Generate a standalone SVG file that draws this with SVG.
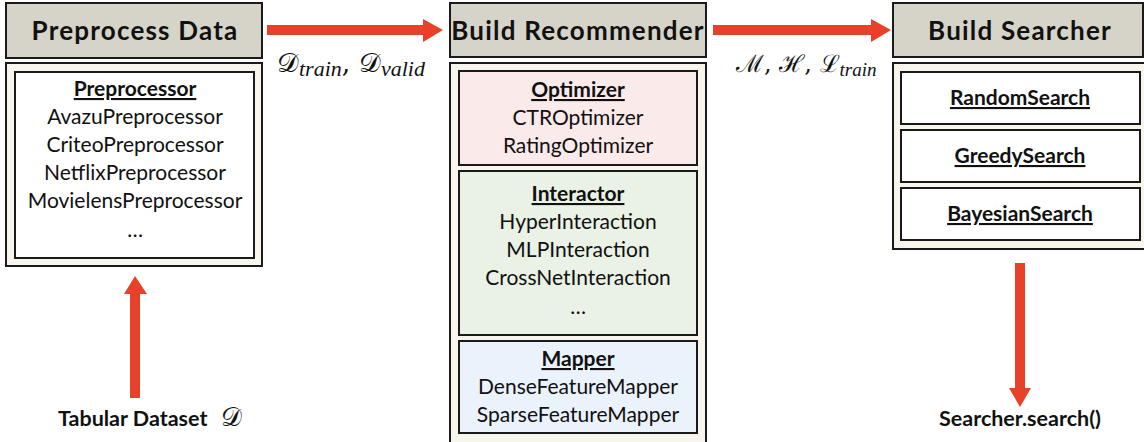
<svg xmlns="http://www.w3.org/2000/svg" width="1144" height="442" viewBox="0 0 1144 442">
  <defs>
    <style>
      .hdr { fill: #d6d4c8; stroke: #1a1a1a; stroke-width: 2; }
      .panel { fill: #f8f6ec; stroke: #1a1a1a; stroke-width: 2; }
      .box { fill: #ffffff; stroke: #1a1a1a; stroke-width: 2; }
      .opt { fill: #fbeaea; stroke: #1a1a1a; stroke-width: 2; }
      .int { fill: #e9f2e5; stroke: #1a1a1a; stroke-width: 2; }
      .map { fill: #eaf2fc; stroke: #1a1a1a; stroke-width: 2; }
      .title { font-family: Lato, "Noto Sans", sans-serif; font-weight: bold; font-size: 26px; letter-spacing: 1.2px; fill: #111; text-anchor: middle; }
      .sub { font-family: Lato, "Noto Sans", sans-serif; font-weight: bold; font-size: 21px; fill: #111; text-anchor: middle; text-decoration: underline; }
      .item { font-family: Lato, "Noto Sans", sans-serif; font-size: 21px; fill: #111; text-anchor: middle; }
      .io { font-family: Lato, "Noto Sans", sans-serif; font-weight: bold; font-size: 21.5px; fill: #111; }
      .math { font-family: "DejaVu Serif", "Liberation Serif", serif; font-size: 26px; fill: #111; }
      .subs { font-family: "Liberation Serif", serif; font-style: italic; font-size: 20px; }
      .arrow { fill: #e8412a; }
    </style>
  </defs>

  <!-- Preprocess Data stage -->
  <g id="preprocess">
    <rect class="hdr" x="6" y="3" width="256" height="55"/>
    <text class="title" x="135" y="40">Preprocess Data</text>
    <rect class="panel" x="6" y="63" width="256" height="203"/>
    <rect class="box" x="15" y="72" width="239" height="186"/>
    <text class="sub" x="135" y="96">Preprocessor</text>
    <text class="item" x="135" y="124">AvazuPreprocessor</text>
    <text class="item" x="135" y="152">CriteoPreprocessor</text>
    <text class="item" x="135" y="180">NetflixPreprocessor</text>
    <text class="item" x="135" y="208">MovielensPreprocessor</text>
    <text class="item" x="135" y="237">…</text>
  </g>

  <!-- Build Recommender stage -->
  <g id="recommender">
    <rect class="hdr" x="450" y="3" width="256" height="54"/>
    <text class="title" x="578" y="40">Build Recommender</text>
    <rect class="panel" x="450" y="63" width="256" height="385"/>
    <g id="optimizer">
      <rect class="opt" x="459" y="71" width="238" height="94"/>
      <text class="sub" x="578" y="97">Optimizer</text>
      <text class="item" x="578" y="125">CTROptimizer</text>
      <text class="item" x="578" y="153">RatingOptimizer</text>
    </g>
    <g id="interactor">
      <rect class="int" x="459" y="171" width="238" height="164"/>
      <text class="sub" x="578" y="201">Interactor</text>
      <text class="item" x="578" y="229">HyperInteraction</text>
      <text class="item" x="578" y="257">MLPInteraction</text>
      <text class="item" x="578" y="285">CrossNetInteraction</text>
      <text class="item" x="578" y="314">…</text>
    </g>
    <g id="mapper">
      <rect class="map" x="459" y="341" width="238" height="92"/>
      <text class="sub" x="578" y="366">Mapper</text>
      <text class="item" x="578" y="394">DenseFeatureMapper</text>
      <text class="item" x="578" y="422">SparseFeatureMapper</text>
    </g>
  </g>

  <!-- Build Searcher stage -->
  <g id="searcher">
    <rect class="hdr" x="893" y="3" width="250" height="54"/>
    <text class="title" x="1020" y="40">Build Searcher</text>
    <rect class="panel" x="893" y="63" width="253" height="186"/>
    <g id="random-search">
      <rect class="box" x="901" y="72" width="239" height="52"/>
      <text class="sub" x="1020" y="105">RandomSearch</text>
    </g>
    <g id="greedy-search">
      <rect class="box" x="901" y="130" width="239" height="52"/>
      <text class="sub" x="1020" y="163">GreedySearch</text>
    </g>
    <g id="bayesian-search">
      <rect class="box" x="901" y="188" width="239" height="52"/>
      <text class="sub" x="1020" y="221">BayesianSearch</text>
    </g>
  </g>

  <!-- Input and output labels -->
  <g id="dataset">
    <text class="io" x="58" y="426">Tabular Dataset</text>
    <text class="math" x="221" y="426">𝒟</text>
  </g>
  <g id="search-call">
    <text class="io" x="1020" y="426" text-anchor="middle">Searcher.search()</text>
  </g>

  <!-- Connectors -->
  <g id="connectors">
    <polygon class="arrow" points="267,25 423,25 423,19 443,30 423,42 423,35 267,35"/>
    <text class="math" x="277" y="72" style="font-size:27px">𝒟<tspan class="subs" dy="4" style="font-size:22px">train</tspan><tspan dy="-4">, 𝒟</tspan><tspan class="subs" dy="4" style="font-size:22px">valid</tspan></text>

    <polygon class="arrow" points="713,25 871,25 871,19 891,30 871,42 871,35 713,35"/>
    <text class="math" x="736" y="72" style="font-size:24px">ℳ, ℋ, ℒ<tspan class="subs" dy="4" style="font-size:19px">train</tspan></text>

    <polygon class="arrow" points="130,398 130,294 124,294 135,276 147,294 140,294 140,398"/>
    <polygon class="arrow" points="1015,263 1025,263 1025,388 1031,388 1020,407 1009,388 1015,388"/>
  </g>
</svg>
